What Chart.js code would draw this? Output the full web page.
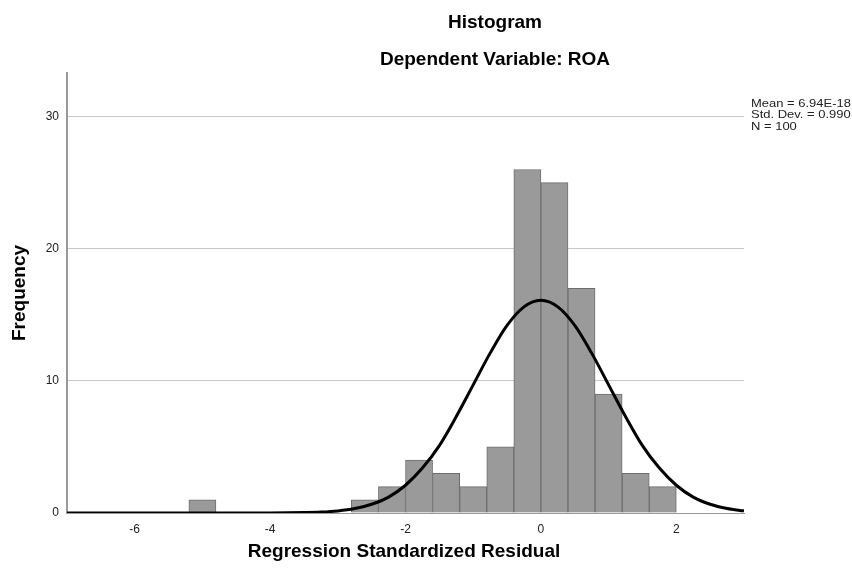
<!DOCTYPE html>
<html>
<head>
<meta charset="utf-8">
<script src="https://cdn.jsdelivr.net/npm/chart.js@4.4.1/dist/chart.umd.min.js"></script>
<style>
  body { margin: 0; background: #fff; }
</style>
</head>
<body>
<canvas id="HistChart" width="852" height="572"></canvas>
<script>
// histogram bins (centre of each 0.4-wide bin) and counts
const binCenters = [-5.0, -2.6, -2.2, -1.8, -1.4, -1.0, -0.6, -0.2, 0.2, 0.6, 1.0, 1.4, 1.8];
const binCounts = [1, 1, 2, 4, 3, 2, 5, 26, 25, 17, 9, 3, 2];

// normal curve
const curveX = [-7, -6.5, -6, -5.5, -5, -4.5, -4, -3.75, -3.5, -3.25, -3, -2.75, -2.5, -2.25, -2, -1.75, -1.5, -1.25, -1, -0.75, -0.5, -0.25, 0,
  0.25, 0.5, 0.75, 1, 1.25, 1.5, 1.75, 2, 2.25, 2.5, 2.75, 3];
const curveY = [0, 0, 0, 0, 0, 0, 0, 0.01, 0.03, 0.07, 0.16, 0.34, 0.66, 1.2, 2.1, 3.4, 5.1, 7.3, 9.7, 12.1, 14.2, 15.6, 16.1,
  15.6, 14.2, 12.1, 9.7, 7.3, 5.1, 3.4, 2.1, 1.2, 0.66, 0.34, 0.16];

const xTicks = [-6, -4, -2, 0, 2];
const yTicks = [0, 10, 20, 30];

const titleLines = ['Histogram', 'Dependent Variable: ROA'];
const statsLines = ['Mean = 6.94E-18', 'Std. Dev. = 0.990', 'N = 100'];
const xTitle = 'Regression Standardized Residual';
const yTitle = 'Frequency';

const FONT = '"Liberation Sans", Arial, sans-serif';

// draws the titles and the stats box
const textPlugin = {
  id: 'textPlugin',
  afterDraw(chart) {
    const c = chart.ctx;
    c.save();
    c.fillStyle = '#000';
    c.textBaseline = 'middle';
    c.textAlign = 'center';
    c.font = 'bold 19px ' + FONT;
    c.fillText(titleLines[0], 495, 23);
    c.fillText(titleLines[1], 495, 59.5);
    c.fillText(xTitle, 404, 552);

    c.save();
    c.translate(20, 293);
    c.rotate(-Math.PI / 2);
    c.fillText(yTitle, 0, 0);
    c.restore();

    // stats text is a bit stretched sideways in the original
    c.textAlign = 'left';
    c.font = '11px ' + FONT;
    c.fillStyle = '#222';
    statsLines.forEach((t, i) => {
      c.save();
      c.translate(751, 104 + i * 11.3);
      c.scale(1.18, 1);
      c.fillText(t, 0, 0);
      c.restore();
    });
    c.restore();
  }
};

const ctx = document.getElementById('HistChart');

let HistChart = new Chart(ctx, {
  type: 'bar',
  data: {
    datasets: [{
      type: 'line',
      data: curveX.map((x, i) => ({ x: x, y: curveY[i] })),
      borderColor: '#000',
      borderWidth: 3,
      pointRadius: 0,
      cubicInterpolationMode: 'monotone',
      fill: false,
      order: 0
    }, {
      type: 'bar',
      data: binCenters.map((x, i) => ({ x: x, y: binCounts[i] })),
      backgroundColor: '#9a9a9a',
      borderColor: '#6e6e6e',
      borderWidth: 1,
      barPercentage: 1,
      categoryPercentage: 1,
      order: 1
    }]
  },
  options: {
    responsive: false,
    animation: false,
    layout: { padding: { top: 73, right: 108, left: 0, bottom: 0 } },
    plugins: {
      legend: { display: false },
      tooltip: { enabled: false }
    },
    scales: {
      x: {
        type: 'linear',
        offset: false,
        min: -7,
        max: 3,
        afterBuildTicks: (s) => { s.ticks = xTicks.map(v => ({ value: v })); },
        afterFit: (s) => { s.height = 59; },
        grid: { display: false, drawTicks: false, offset: false },
        border: { color: '#9a9a9a', width: 1 },
        ticks: { padding: 9, color: '#222', font: { family: FONT, size: 12 } }
      },
      y: {
        min: 0,
        max: 33.3,
        afterBuildTicks: (s) => { s.ticks = yTicks.map(v => ({ value: v })); },
        afterFit: (s) => { s.width = 67; },
        grid: { color: (c) => c.tick.value === 0 ? 'rgba(0,0,0,0)' : '#c8c8c8', drawTicks: false },
        border: { color: '#9a9a9a', width: 2 },
        ticks: { padding: 8, color: '#222', font: { family: FONT, size: 12 } }
      }
    }
  },
  plugins: [textPlugin]
});
</script>
</body>
</html>
